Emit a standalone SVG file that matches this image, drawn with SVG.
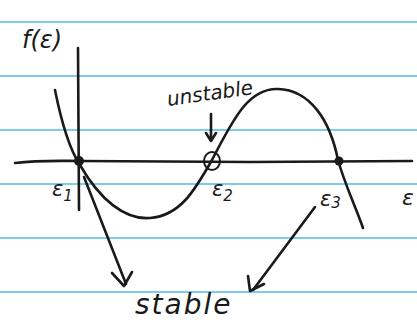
<svg xmlns="http://www.w3.org/2000/svg" width="417" height="330" viewBox="0 0 417 330">
<style>
.rule{stroke:#5fbfe8;stroke-width:2;opacity:0.8}
.ink{fill:none;stroke:#1a1a1a;stroke-width:2.6;stroke-linecap:round;stroke-linejoin:round}
.t{font-family:"DejaVu Sans",sans-serif;fill:#1a1a1a;font-style:italic}
</style>
<rect width="417" height="330" fill="#ffffff"/>
<g id="paper">
<line class="rule" x1="0" y1="22" x2="417" y2="22"/>
<line class="rule" x1="0" y1="76" x2="417" y2="76"/>
<line class="rule" x1="0" y1="130" x2="417" y2="130"/>
<line class="rule" x1="0" y1="184" x2="417" y2="184"/>
<line class="rule" x1="0" y1="238" x2="417" y2="238"/>
<line class="rule" x1="0" y1="292" x2="417" y2="292"/>
</g>
<g id="axes">
<path class="ink" d="M15,163 C40,160 60,161 80,161 L250,162 L412,161"/>
<path class="ink" d="M78,48 L79,210"/>
</g>
<g id="curve">
<path class="ink" d="M55,90 C62,125 70,150 80,165 C100,200 125,220 150,218 C180,216 195,190 212,160 C235,115 250,88 278,89 C310,90 330,120 338,160 C345,185 355,205 363,228"/>
</g>
<g id="points">
<circle cx="79" cy="161" r="5" fill="#1a1a1a"/>
<circle cx="339" cy="161" r="4.5" fill="#1a1a1a"/>
<ellipse cx="212" cy="161" rx="8" ry="9" fill="none" stroke="#1a1a1a" stroke-width="2"/>
</g>
<g id="connectors">
<path class="ink" d="M84,177 L126,284"/>
<path class="ink" d="M112,273 L124,286 L132,272"/>
<path class="ink" d="M315,207 L253,290"/>
<path class="ink" d="M248,276 L250,291 L264,284"/>
<path class="ink" d="M211,114 L211,140"/>
<path class="ink" d="M206,133 L211,141 L216,133"/>
</g>
<g id="labels">
<text class="t" x="22" y="48" font-size="24">f(ε)</text>
<text class="t" x="168" y="106" font-size="20" transform="rotate(-8 168 106)">unstable</text>
<text class="t" x="52" y="196" font-size="21">ε<tspan font-size="15" dy="5">1</tspan></text>
<text class="t" x="212" y="196" font-size="21">ε<tspan font-size="15" dy="5">2</tspan></text>
<text class="t" x="320" y="206" font-size="21">ε<tspan font-size="15" dy="2">3</tspan></text>
<text class="t" x="402" y="205" font-size="22">ε</text>
<text class="t" x="135" y="314" font-size="28" letter-spacing="2">stable</text>
</g>
</svg>
